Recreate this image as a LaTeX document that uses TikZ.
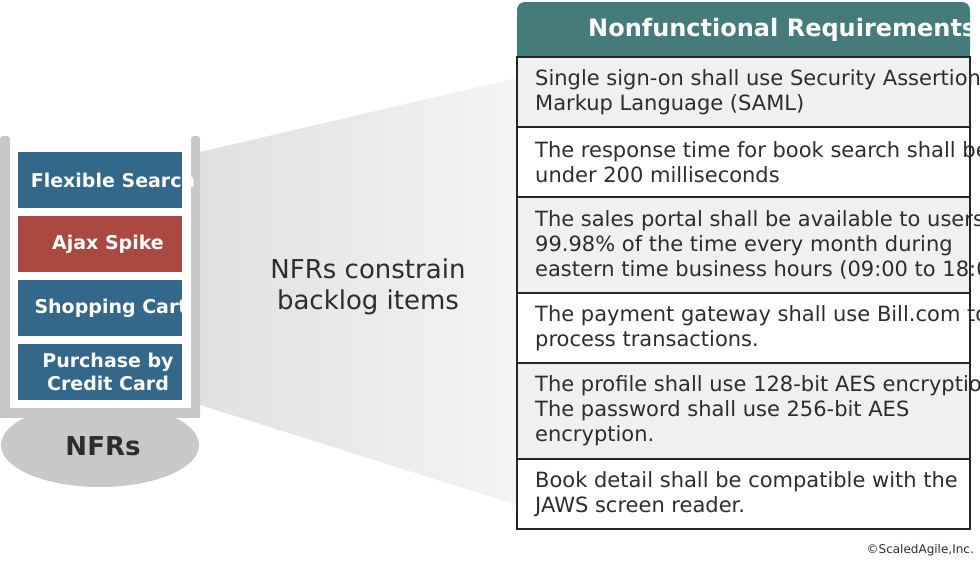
\documentclass[tikz,border=0pt]{standalone}
\usepackage{fontspec}
\setmainfont{DejaVu Sans}
\usepackage{xcolor}
\usepackage{tikz}
\usetikzlibrary{positioning, shapes.geometric}
\definecolor{itemblue}{RGB}{51,104,138}
\definecolor{spikered}{RGB}{170,72,66}
\definecolor{headteal}{RGB}{69,123,123}
\definecolor{traygray}{RGB}{200,200,200}
\definecolor{rowgray}{RGB}{240,240,240}
\definecolor{funnelleft}{RGB}{224,224,224}
\definecolor{funnelright}{RGB}{244,244,244}
\definecolor{inkgray}{RGB}{45,45,45}

\begin{document}
\begin{tikzpicture}[
    x=1pt, y=-1pt,
    node distance=8pt,
    item/.style={rectangle, fill=itemblue, minimum width=164pt, minimum height=56pt,
                 inner sep=0pt, outer sep=0pt},
    itemtext/.style={text=white, align=center, inner sep=0pt,
                     font=\fontsize{19}{23}\selectfont\bfseries},
    cell/.style={rectangle, draw=black!85, line width=1.3pt, minimum width=453pt,
                 inner sep=0pt, outer sep=0pt},
    celltext/.style={text=inkgray, align=left, anchor=west, inner sep=0pt,
                     font=\fontsize{21}{25}\selectfont},
    post/.style={fill=traygray, rounded corners=3pt}
  ]
    \useasboundingbox (0,0) rectangle (980,565);
    \clip (0,0) rectangle (980,565);

    \shade[left color=funnelleft, right color=funnelright]
      (200,152) -- (517,78) -- (517,505) -- (200,405) -- cycle;
    \node[text=inkgray, align=center, font=\fontsize{26}{31}\selectfont] (constrain)
      at (368,287) {NFRs constrain\\backlog items};

    \node[ellipse, fill=traygray, minimum width=198pt, minimum height=84pt, inner sep=0pt] (base) at (100,445) {};
    \node[text=inkgray, inner sep=0pt, font=\fontsize{26}{30}\selectfont\bfseries] (basetext)
      at ([xshift=3pt, yshift=-1pt]base.center) {NFRs};
    \fill[white] (10,137) rectangle (191,410);
    \fill[post] (0,136) rectangle (10,418);
    \fill[post] (191,136) rectangle (200,418);
    \fill[traygray] (0,408) rectangle (200,418);

    \node[item] (search) at (100,180) {};
    \node[item, below=of search, fill=spikered] (spike) {};
    \node[item, below=of spike] (cart) {};
    \node[item, below=of cart] (purchase) {};

    \node[itemtext] (searchtext)   at ([xshift=13pt]search.center)   {Flexible Search};
    \node[itemtext] (spiketext)    at ([xshift=8pt]spike.center)     {Ajax Spike};
    \node[itemtext] (carttext)     at ([xshift=11pt]cart.center)     {Shopping Cart};
    \node[itemtext] (purchasetext) at ([xshift=8pt]purchase.center) {Purchase by\\Credit Card};

    \node[rectangle, fill=headteal, rounded corners=8pt, minimum width=453pt, minimum height=55pt,
          inner sep=0pt, outer sep=0pt, anchor=north west] (head) at (517,2) {};
    \fill[headteal] (head.west) rectangle (head.south east);
    \node[anchor=west, text=white, inner sep=0pt, font=\fontsize{24}{28}\selectfont\bfseries]
      (headtext) at (588,30) {Nonfunctional Requirements};

    \node[cell, fill=rowgray, minimum height=70pt, below=0pt of head] (sso) {};
    \node[cell, fill=white, minimum height=70pt, below=0pt of sso]    (resp) {};
    \node[cell, fill=rowgray, minimum height=96pt, below=0pt of resp] (avail) {};
    \node[cell, fill=white, minimum height=70pt, below=0pt of avail]  (pay) {};
    \node[cell, fill=rowgray, minimum height=96pt, below=0pt of pay]  (crypt) {};
    \node[cell, fill=white, minimum height=70pt, below=0pt of crypt]  (jaws) {};

    \node[celltext] (ssotext)   at ([xshift=18pt]sso.west)
      {Single sign-on shall use Security Assertion\\Markup Language (SAML)};
    \node[celltext] (resptext)  at ([xshift=18pt]resp.west)
      {The response time for book search shall be\\under 200 milliseconds};
    \node[celltext] (availtext) at ([xshift=18pt]avail.west)
      {The sales portal shall be available to users\\99.98\% of the time every month during\\eastern time business hours (09:00 to 18:00)};
    \node[celltext] (paytext)   at ([xshift=18pt]pay.west)
      {The payment gateway shall use Bill.com to\\process transactions.};
    \node[celltext] (crypttext) at ([xshift=18pt]crypt.west)
      {The profile shall use 128-bit AES encryption\\The password shall use 256-bit AES\\encryption.};
    \node[celltext] (jawstext)  at ([xshift=18pt]jaws.west)
      {Book detail shall be compatible with the\\JAWS screen reader.};

    \node[anchor=east, text=inkgray, inner sep=0pt, font=\fontsize{12}{14}\selectfont]
      (copyright) at (974,550) {©ScaledAgile,Inc.};
  \end{tikzpicture}
\end{document}
